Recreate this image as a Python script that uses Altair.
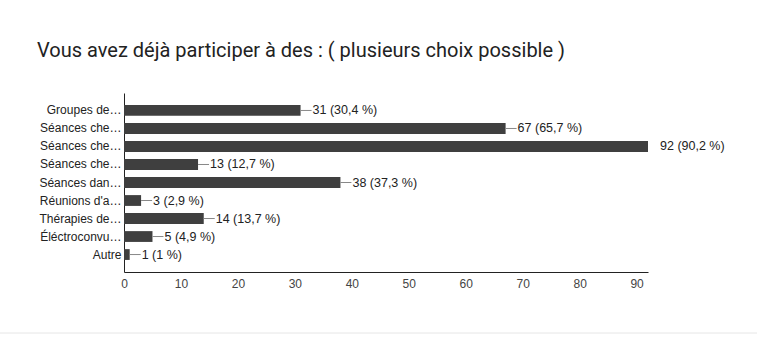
import altair as alt
import pandas as pd

labels = ["Groupes de…", "Séances che…", "Séances che…", "Séances che…", "Séances dan…",
          "Réunions d'a…", "Thérapies de…", "Éléctroconvu…", "Autre"]
values = [31, 67, 92, 13, 38, 3, 14, 5, 1]
percents = ["30,4", "65,7", "90,2", "12,7", "37,3", "2,9", "13,7", "4,9", "1"]
ticks = [0, 10, 20, 30, 40, 50, 60, 70, 80, 90]

df = pd.DataFrame({
    "idx": list(range(len(labels))),
    "value": values,
    "text": [f"{v} ({p} %)" for v, p in zip(values, percents)],
})

label_js = "[" + ",".join("'" + l.replace("'", "\\'") + "'" for l in labels) + "]"

W, H = 524, 179

y_enc = alt.Y("idx:O", sort=None,
              scale=alt.Scale(paddingInner=0.4, paddingOuter=0.67),
              axis=alt.Axis(title=None, labelExpr=f"{label_js}[datum.value]",
                            ticks=False, labelPadding=3, labelFontSize=12,
                            labelColor="#222", labelFont="Liberation Sans",
                            domainColor="#222", labelLimit=200))
x_scale = alt.Scale(domain=[0, 92], nice=False)

base = alt.Chart(df)

bars = base.mark_bar(color="#3f3f3f").encode(
    x=alt.X("value:Q", scale=x_scale,
            axis=alt.Axis(title=None, values=ticks, grid=False, ticks=False,
                          labelFlush=False,
                          labelPadding=6, labelFontSize=12, labelColor="#444",
                          labelFont="Liberation Sans", domainColor="#222")),
    y=y_enc,
)

leaders = base.mark_rule(color="#888", strokeWidth=1, x2Offset=11, clip=True).encode(
    x=alt.X("value:Q", scale=x_scale),
    x2="value:Q",
    y=alt.Y("idx:O", sort=None),
)

texts = base.mark_text(align="left", baseline="middle", dx=12, fontSize=12.5,
                       color="#222", font="Liberation Sans").encode(
    x=alt.X("value:Q", scale=x_scale),
    y=alt.Y("idx:O", sort=None),
    text="text:N",
)

sep = alt.Chart(pd.DataFrame({"a": [0]})).mark_rule(color="#e6e6e6", strokeWidth=1).encode(
    x=alt.value(-124), x2=alt.value(W + 109), y=alt.value(H + 61))

chart = alt.layer(bars, leaders, texts, sep).properties(
    width=W, height=H,
    padding={"left": 124, "top": 93, "right": 109, "bottom": 70},
    autosize=alt.AutoSizeParams(type="none"),
    title=alt.TitleParams(
        "Vous avez déjà participer à des : ( plusieurs choix possible )",
        anchor="start", frame="group", dx=-87, offset=32,
        fontSize=20, font="Roboto", fontWeight="normal", color="#222"),
).configure_view(stroke=None)

chart.save("out.html", embed_options={"renderer": "svg", "actions": False})
